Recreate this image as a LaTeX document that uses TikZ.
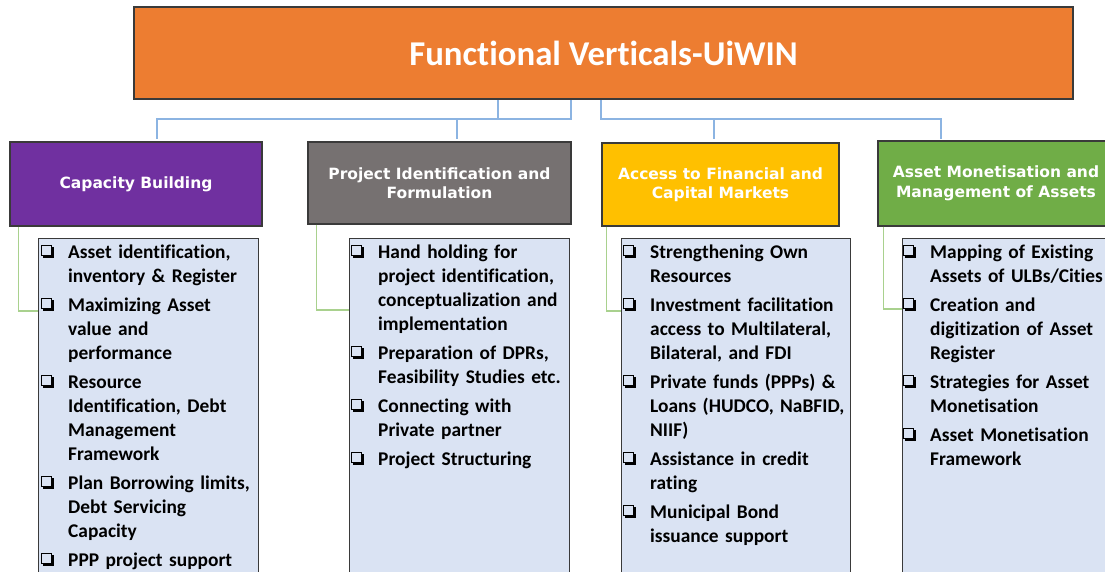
\documentclass[tikz,border=0pt]{standalone}
\usepackage{fontspec}
\setmainfont{Carlito}[Ligatures=NoCommon]
\newfontfamily\hdfont{DejaVu Sans}
\definecolor{topor}{HTML}{ED7D31}
\definecolor{cbpurple}{HTML}{7030A0}
\definecolor{pigray}{HTML}{767171}
\definecolor{fingold}{HTML}{FFC000}
\definecolor{amgreen}{HTML}{70AD47}
\definecolor{bodyfill}{HTML}{DAE3F3}
\definecolor{connblue}{RGB}{140,180,226}
\definecolor{conngreen}{RGB}{169,209,142}
\definecolor{edgegray}{HTML}{3A3A3A}
\newcommand\chk{{\setlength\unitlength{1pt}\begin{picture}(13,13)
\put(0,2){\rule{11pt}{1pt}}
\put(0,12){\rule{11pt}{1pt}}
\put(0,2){\rule{1pt}{11pt}}
\put(10,2){\rule{1pt}{11pt}}
\put(2,0){\rule{11pt}{2.2pt}}
\put(10.8,0){\rule{2.2pt}{11pt}}
\end{picture}}}
\newcommand\itm[2][]{\begingroup\def\\{\hfil\break}\hangindent=27pt\hangafter=1\noindent\makebox[27pt][l]{#1\chk}#2\par\endgroup\vspace{5pt}}
\begin{document}
\begin{tikzpicture}[x=1pt,y=-1pt,
  box/.style={draw=edgegray, line width=1.2pt, inner sep=0pt},
  hdr/.style={box, text=white, font=\hdfont\bfseries\fontsize{15.5}{19.5}\selectfont, align=center},
  body/.style={box, fill=bodyfill, anchor=north west, minimum height=470pt},
  txt/.style={anchor=north west, inner sep=0pt, text width=250pt, font=\bfseries\fontsize{19.4}{24}\selectfont},
  conn/.style={draw=connblue, line width=1.2pt},
  gconn/.style={draw=conngreen, line width=1.2pt}]
\clip (0,0) rectangle (1105,572);
\fill[white] (0,0) rectangle (1105,572);
% connectors
\coordinate (a1) at (498,99);
\coordinate (a2) at (571,99);
\coordinate (a3) at (601,99);
\coordinate (b1) at (157,139);
\coordinate (b2) at (457,139);
\coordinate (b3) at (714,139);
\coordinate (b4) at (941,139);
\draw[conn] (a2) -- ++(0,20) -| (b1);
\draw[conn] (a1) -- ++(0,20) -| (b2);
\draw[conn] (a3) -- ++(0,20) -| (b4);
\draw[conn] (a3) -- ++(0,20) -| (b3);
% title
\node[box, fill=topor, minimum width=939pt, minimum height=92pt, text=white,
      font=\bfseries\fontsize{34.8}{40}\selectfont] (top) at (603.5,53) {Functional Verticals-UiWIN};
% headers
\node[hdr, fill=cbpurple, minimum width=252pt, minimum height=84pt] (h1) at (136,184) {Capacity Building};
\node[hdr, fill=pigray, minimum width=263pt, minimum height=82pt] (h2) at (439.5,183) {Project Identification and\\Formulation};
\node[hdr, fill=fingold, minimum width=237pt, minimum height=83pt] (h3) at (720.5,184.5) {Access to Financial and\\Capital Markets};
\node[hdr, fill=amgreen, minimum width=236pt, minimum height=85pt] (h4) at (996,183.5) {Asset Monetisation and\\Management of Assets};
% body boxes
\node[body, minimum width=220pt] (c1) at (38,238) {};
\node[body, minimum width=220pt] (c2) at (349,238) {};
\node[body, minimum width=229pt] (c3) at (621,238) {};
\node[body, minimum width=230pt] (c4) at (902,238) {};
% green connectors
\coordinate (g1) at (38,311);
\coordinate (g2) at (349,310);
\coordinate (g3) at (621,311);
\coordinate (g4) at (902,309);
\draw[gconn] ([xshift=9pt]h1.south west) |- (g1);
\draw[gconn] ([xshift=9pt]h2.south west) |- (g2);
\draw[gconn] ([xshift=5pt]h3.south west) |- (g3);
\draw[gconn] ([xshift=6pt]h4.south west) |- (g4);
% texts
\node[txt] (t1) at ([xshift=3pt]c1.north west) {%
\itm[\rule{0pt}{20pt}]{Asset identification,\\inventory \& Register}
\itm{Maximizing Asset\\value and\\performance}
\itm{Resource\\Identification, Debt\\Management\\Framework}
\itm{Plan Borrowing limits,\\Debt Servicing\\Capacity}
\itm{PPP project support}};
\node[txt] (t2) at ([xshift=2pt]c2.north west) {%
\itm[\rule{0pt}{20pt}]{Hand holding for\\project identification,\\conceptualization and\\implementation}
\itm{Preparation of DPRs,\\Feasibility Studies etc.}
\itm{Connecting with\\Private partner}
\itm{Project Structuring}};
\node[txt] (t3) at ([xshift=2pt]c3.north west) {%
\itm[\rule{0pt}{20pt}]{Strengthening Own\\Resources}
\itm{Investment facilitation\\access to Multilateral,\\Bilateral, and FDI}
\itm{Private funds (PPPs) \&\\Loans (HUDCO, NaBFID,\\NIIF)}
\itm{Assistance in credit\\rating}
\itm{Municipal Bond\\issuance support}};
\node[txt] (t4) at ([xshift=1pt]c4.north west) {%
\itm[\rule{0pt}{20pt}]{Mapping of Existing\\Assets of ULBs/Cities}
\itm{Creation and\\digitization of Asset\\Register}
\itm{Strategies for Asset\\Monetisation}
\itm{Asset Monetisation\\Framework}};
\end{tikzpicture}
\end{document}
